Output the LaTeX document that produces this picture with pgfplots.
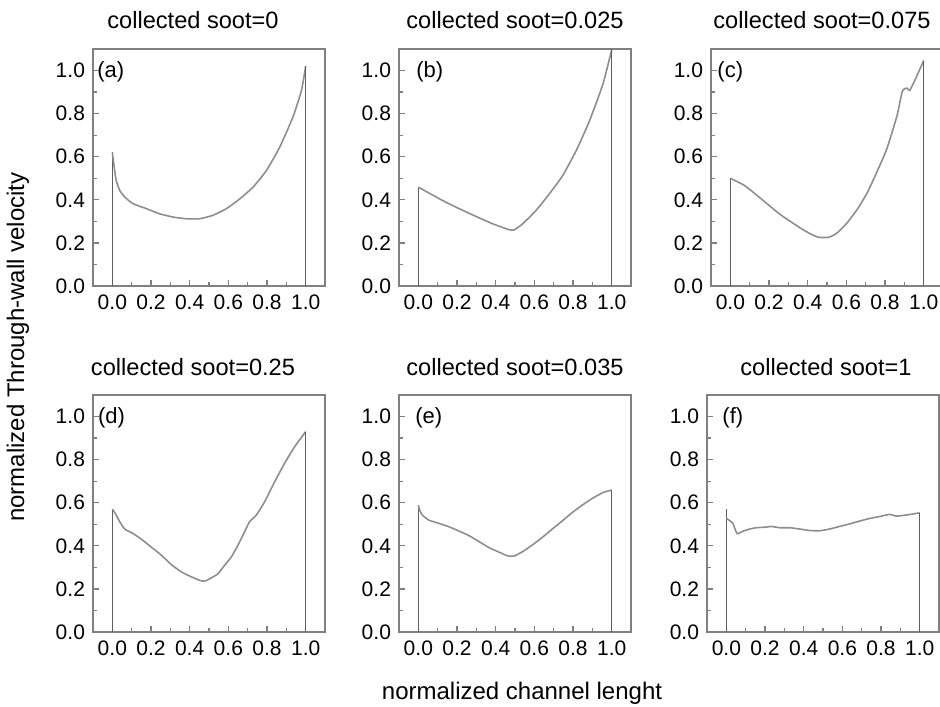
\documentclass[border=0pt]{standalone}
\usepackage{fontspec}
\setmainfont{Liberation Sans}
\usepackage{pgfplots}
\pgfplotsset{compat=1.18}

\definecolor{framegray}{HTML}{808080}
\definecolor{curvegray}{HTML}{8E8E8E}
\definecolor{edgegray}{HTML}{5E5E5E}

\pgfplotsset{
  panel/.style={
    scale only axis, width=116pt, height=118.5pt, anchor=north west,
    xmin=-0.1, xmax=1.1, ymin=0, ymax=1.1,
    xtick={0,0.2,0.4,0.6,0.8,1}, ytick={0,0.2,0.4,0.6,0.8,1},
    minor tick num=1, tick align=inside, xtick pos=bottom, ytick pos=left,
    major tick length=3pt, minor tick length=1.8pt,
    axis line style={draw=framegray, line width=0.75pt},
    every tick/.style={framegray, line width=0.6pt},
    tick label style={font=\fontsize{10.5}{12}\selectfont},
    xticklabel style={yshift=-1pt},
    yticklabel style={xshift=-0.5pt},
    /pgf/number format/.cd, fixed, fixed zerofill, precision=1,
      assume math mode=true, /pgfplots/.cd,
    title style={font=\fontsize{11.8}{14}\selectfont, anchor=base,
      at={(0.5,1)}, yshift=4pt},
  },
  curve/.style={curvegray, line width=0.8pt, no marks, smooth, tension=0.3},
  edge/.style={edgegray, line width=0.75pt, no marks},
}
\newcommand{\plabel}[2]{\node[anchor=west, inner sep=0pt,
  font=\fontsize{11}{12}\selectfont] at (axis description cs:#1,0.903) {#2};}

\begin{document}
\begin{tikzpicture}
\path[use as bounding box] (0,0) rectangle (470pt,-353pt);

% (a)
\begin{axis}[panel, at={(46.5pt,-24.5pt)}, title={collected soot=0},
  title style={xshift=-8pt}]
\addplot[edge] coordinates {(0,0) (0,0.62)};
\addplot[curve] coordinates {(0,0.62) (0.012,0.536) (0.02,0.49) (0.038,0.444)
  (0.064,0.413) (0.107,0.382) (0.176,0.359) (0.245,0.335) (0.314,0.32)
  (0.383,0.312) (0.45,0.312) (0.52,0.328) (0.59,0.359) (0.66,0.405)
  (0.728,0.459) (0.797,0.536) (0.866,0.645) (0.934,0.784) (0.978,0.907)
  (1,1.02)};
\addplot[edge] coordinates {(1,1.02) (1,0)};
\plabel{0.017}{(a)}
\end{axis}

% (b)
\begin{axis}[panel, at={(199.5pt,-24.5pt)}, title={collected soot=0.025}]
\addplot[edge] coordinates {(0,0) (0,0.459)};
\addplot[curve] coordinates {(0,0.459) (0.125,0.397) (0.211,0.359)
  (0.298,0.323) (0.384,0.289) (0.47,0.261) (0.497,0.261) (0.54,0.289)
  (0.609,0.351) (0.678,0.428) (0.747,0.513) (0.817,0.629) (0.886,0.768)
  (0.955,0.938) (1,1.096)};
\addplot[edge] coordinates {(1,1.1) (1,0)};
\plabel{0.073}{(b)}
\end{axis}

% (c)
\begin{axis}[panel, at={(355.5pt,-24.5pt)}, title={collected soot=0.075},
  title style={xshift=-2.5pt}]
\addplot[edge] coordinates {(0,0) (0,0.50)};
\addplot[curve] coordinates {(0,0.50) (0.034,0.485) (0.069,0.469)
  (0.103,0.446) (0.155,0.408) (0.207,0.369) (0.259,0.331) (0.31,0.30)
  (0.362,0.269) (0.414,0.242) (0.457,0.226) (0.509,0.226) (0.552,0.246)
  (0.603,0.292) (0.655,0.354) (0.707,0.431) (0.759,0.531) (0.81,0.638)
  (0.862,0.79) (0.888,0.90) (0.9,0.915) (0.914,0.918) (0.928,0.908)
  (0.957,0.96) (1,1.046)};
\addplot[edge] coordinates {(1,1.046) (1,0)};
\plabel{0.026}{(c)}
\end{axis}

% (d)
\begin{axis}[panel, at={(46.5pt,-197.5pt)}, title={collected soot=0.25},
  title style={xshift=-8pt}]
\addplot[edge] coordinates {(0,0) (0,0.571)};
\addplot[curve] coordinates {(0,0.571) (0.02,0.543) (0.038,0.512)
  (0.064,0.478) (0.107,0.457) (0.15,0.431) (0.2,0.395) (0.253,0.357)
  (0.305,0.313) (0.357,0.279) (0.409,0.256) (0.452,0.24) (0.478,0.236)
  (0.512,0.251) (0.547,0.271) (0.581,0.31) (0.616,0.349) (0.65,0.403)
  (0.684,0.465) (0.71,0.512) (0.745,0.543) (0.788,0.605) (0.84,0.698)
  (0.891,0.783) (0.943,0.86) (1,0.93)};
\addplot[edge] coordinates {(1,0.93) (1,0)};
\plabel{0.02}{(d)}
\end{axis}

% (e)
\begin{axis}[panel, at={(199.5pt,-197.5pt)}, title={collected soot=0.035}]
\addplot[edge] coordinates {(0,0) (0,0.589)};
\addplot[curve] coordinates {(0,0.589) (0.007,0.566) (0.02,0.543)
  (0.055,0.519) (0.107,0.504) (0.16,0.488) (0.211,0.468) (0.263,0.447)
  (0.315,0.419) (0.367,0.391) (0.419,0.37) (0.463,0.353) (0.497,0.353)
  (0.541,0.374) (0.593,0.406) (0.645,0.442) (0.697,0.481) (0.749,0.519)
  (0.801,0.558) (0.853,0.592) (0.905,0.623) (0.957,0.648) (1,0.659)};
\addplot[edge] coordinates {(1,0.659) (1,0)};
\plabel{0.069}{(e)}
\end{axis}

% (f)
\begin{axis}[panel, at={(353.5pt,-197.5pt)}, title={collected soot=1},
  title style={xshift=1.5pt}]
\addplot[edge] coordinates {(0,0) (0,0.571)};
\addplot[curve] coordinates {(0,0.527) (0.014,0.519) (0.034,0.504)
  (0.055,0.457) (0.086,0.468) (0.121,0.478) (0.155,0.484) (0.207,0.487)
  (0.233,0.49) (0.276,0.484) (0.328,0.484) (0.379,0.478) (0.431,0.471)
  (0.483,0.47) (0.534,0.478) (0.586,0.49) (0.638,0.502) (0.69,0.515)
  (0.741,0.527) (0.793,0.536) (0.845,0.546) (0.879,0.538) (0.931,0.543)
  (1,0.553)};
\addplot[edge] coordinates {(1,0.553) (1,0)};
\plabel{0.065}{(f)}
\end{axis}

\node[rotate=90, font=\fontsize{12}{14}\selectfont] at (9pt,-173.5pt)
  {normalized Through-wall velocity};
\node[font=\fontsize{12}{14}\selectfont] at (261pt,-346.5pt)
  {normalized channel lenght};
\end{tikzpicture}
\end{document}
